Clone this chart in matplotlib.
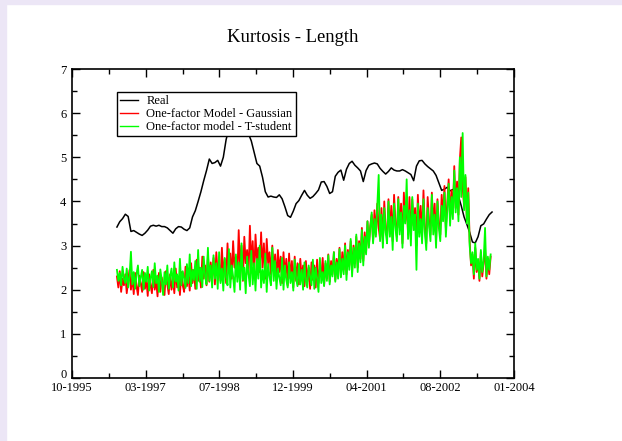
import numpy as np
import matplotlib
matplotlib.use('Agg')
import matplotlib.pyplot as plt
import matplotlib.transforms as mtransforms
from matplotlib.patches import Rectangle

plt.rcParams['font.family'] = ['Liberation Serif', 'DejaVu Serif']

# x axis in days since 10-1995
tick_days = [0, 500, 1000, 1500, 2000, 2500, 3000]
tick_labels = ['10-1995', '03-1997', '07-1998', '12-1999', '04-2001', '08-2002', '01-2004']
start_day = 305
real_step = 19      # days between points of the real series
model_step = 9.5    # days between points of the simulated series

real = [3.42, 3.54, 3.61, 3.71, 3.66, 3.32, 3.34, 3.30, 3.26, 3.23,
        3.28, 3.35, 3.44, 3.46, 3.44, 3.46, 3.43, 3.43, 3.40, 3.34,
        3.28, 3.38, 3.43, 3.42, 3.37, 3.34, 3.40, 3.65, 3.79, 4.00,
        4.22, 4.47, 4.70, 4.96, 4.86, 4.88, 4.93, 4.80, 5.00, 5.40,
        5.65, 5.78, 5.84, 5.82, 5.84, 5.86, 5.75, 5.53, 5.37, 5.12,
        4.86, 4.80, 4.55, 4.22, 4.10, 4.12, 4.10, 4.09, 4.15, 4.06,
        3.88, 3.68, 3.64, 3.78, 3.95, 4.02, 4.14, 4.25, 4.14, 4.07,
        4.11, 4.18, 4.26, 4.44, 4.45, 4.34, 4.18, 4.22, 4.57, 4.66,
        4.71, 4.48, 4.73, 4.86, 4.91, 4.82, 4.76, 4.69, 4.45, 4.70,
        4.82, 4.85, 4.87, 4.85, 4.75, 4.68, 4.62, 4.68, 4.76, 4.71,
        4.69, 4.69, 4.72, 4.69, 4.65, 4.61, 4.47, 4.80, 4.92, 4.93,
        4.85, 4.79, 4.74, 4.69, 4.59, 4.42, 4.25, 4.28, 4.32, 4.24,
        4.27, 4.25, 4.12, 3.90, 3.65, 3.48, 3.30, 3.08, 3.06, 3.20,
        3.45, 3.49, 3.60, 3.70, 3.76]

gaussian = [2.30, 2.05, 2.42, 1.95, 2.25, 2.10, 2.35, 1.92, 2.20, 2.45,
            2.00, 2.30, 1.90, 2.38, 2.08, 1.88, 2.32, 2.15, 1.95, 2.40,
            2.02, 2.25, 1.86, 2.35, 2.10, 1.92, 2.45, 2.00, 2.22, 1.85,
            2.38, 1.95, 2.28, 2.05, 1.88, 2.42, 2.12, 1.90, 2.35, 2.00,
            2.25, 1.92, 2.48, 2.05, 2.30, 1.88, 2.40, 2.10, 1.95, 2.52,
            2.08, 2.35, 1.98, 2.60, 2.15, 2.45, 2.02, 2.68, 2.20, 2.50,
            2.05, 2.75, 2.25, 2.55, 2.10, 2.80, 2.18, 2.62, 2.30, 2.72,
            2.12, 2.85, 2.35, 2.60, 2.20, 2.95, 2.28, 2.70, 2.15, 3.05,
            2.40, 2.82, 2.25, 3.10, 2.50, 2.75, 2.30, 3.35, 2.45, 3.00,
            2.20, 3.20, 2.60, 2.90, 2.35, 3.45, 2.55, 3.10, 2.30, 3.25,
            2.65, 2.95, 2.40, 3.30, 2.50, 3.05, 2.25, 3.15, 2.60, 2.85,
            2.35, 3.00, 2.45, 2.80, 2.20, 2.90, 2.40, 2.75, 2.15, 2.85,
            2.30, 2.70, 2.10, 2.82, 2.25, 2.65, 2.05, 2.75, 2.20, 2.60,
            2.12, 2.70, 2.25, 2.55, 2.08, 2.65, 2.18, 2.50, 2.02, 2.62,
            2.22, 2.55, 2.05, 2.68, 2.15, 2.48, 2.30, 2.72, 2.10, 2.60,
            2.25, 2.80, 2.18, 2.65, 2.35, 2.85, 2.22, 2.70, 2.40, 2.95,
            2.30, 2.85, 2.45, 3.05, 2.35, 2.90, 2.55, 3.10, 2.40, 3.00,
            2.60, 3.20, 2.50, 3.10, 2.70, 3.40, 2.65, 3.30, 2.85, 3.55,
            3.00, 3.45, 3.70, 3.10, 3.80, 3.25, 3.95, 3.40, 3.15, 3.85,
            3.05, 4.00, 3.35, 3.20, 4.05, 3.30, 3.90, 3.10, 4.15, 3.50,
            3.20, 4.10, 3.40, 3.95, 3.05, 4.20, 3.55, 4.00, 3.25, 4.10,
            3.15, 4.05, 3.45, 3.85, 3.00, 4.15, 3.35, 3.90, 3.20, 4.25,
            3.40, 3.05, 4.10, 3.55, 3.25, 4.20, 3.45, 3.95, 3.10, 4.05,
            3.50, 3.25, 4.15, 3.65, 4.35, 3.40, 3.95, 4.50, 3.60, 4.25,
            3.75, 4.80, 3.85, 4.45, 3.70, 4.95, 5.45, 4.30, 3.90, 4.55,
            3.60, 4.30, 3.10, 2.55, 2.80, 2.25, 2.95, 2.40, 2.65, 2.20,
            2.85, 2.30, 2.60, 2.95, 2.25, 2.70, 2.35, 2.75]

tstudent = [2.45, 2.20, 2.38, 2.10, 2.52, 2.25, 2.15, 2.48, 2.05, 2.30,
            2.86, 2.12, 2.40, 2.02, 2.35, 2.55, 2.08, 2.28, 2.45, 2.00,
            2.38, 2.18, 2.52, 1.98, 2.25, 2.42, 2.06, 2.60, 2.15, 2.32,
            1.95, 2.46, 2.22, 1.88, 2.40, 2.12, 2.55, 2.02, 2.30, 2.48,
            2.05, 2.62, 2.18, 2.35, 1.98, 2.70, 2.10, 2.42, 2.25, 2.04,
            2.58, 2.15, 2.80, 2.08, 2.45, 2.22, 2.65, 2.02, 2.90, 2.18,
            2.50, 2.06, 2.75, 2.30, 2.12, 2.95, 2.20, 2.55, 2.05, 2.78,
            2.25, 2.60, 2.02, 2.85, 2.15, 2.48, 1.98, 2.72, 2.28, 2.10,
            2.92, 2.05, 2.55, 2.30, 1.95, 2.80, 2.18, 2.62, 2.00, 3.05,
            2.22, 2.50, 1.92, 2.75, 2.35, 2.08, 2.88, 2.12, 2.60, 1.98,
            2.70, 2.25, 3.00, 2.05, 2.45, 2.15, 2.82, 1.95, 2.58, 2.30,
            2.10, 2.95, 2.20, 2.65, 2.02, 2.48, 2.28, 2.10, 2.72, 2.00,
            2.55, 2.22, 2.05, 2.62, 2.15, 2.40, 1.98, 2.68, 2.25, 2.08,
            2.58, 2.12, 2.45, 2.00, 2.62, 2.20, 2.05, 2.55, 2.30, 2.10,
            2.68, 2.02, 2.50, 2.25, 1.95, 2.72, 2.15, 2.40, 2.08, 2.65,
            2.20, 2.78, 2.12, 2.55, 2.30, 2.85, 2.18, 2.62, 2.25, 2.92,
            2.28, 2.70, 2.35, 3.00, 2.22, 2.85, 2.45, 3.15, 2.30, 2.95,
            2.50, 3.25, 2.40, 3.05, 2.62, 3.35, 2.55, 3.20, 2.80, 3.55,
            2.95, 3.40, 3.75, 3.05, 3.60, 3.20, 3.90, 4.60, 3.10, 3.70,
            2.95, 3.85, 3.30, 3.05, 4.00, 3.20, 3.65, 2.90, 3.95, 3.40,
            3.10, 4.05, 3.25, 3.75, 2.95, 3.90, 3.50, 4.50, 3.15, 3.80,
            3.00, 4.10, 3.35, 3.70, 2.45, 3.95, 3.20, 3.60, 3.05, 4.05,
            3.30, 2.90, 3.85, 3.45, 3.10, 4.15, 3.25, 3.70, 2.95, 4.00,
            3.40, 3.10, 3.90, 3.55, 4.20, 3.20, 3.80, 4.40, 3.45, 4.10,
            3.60, 4.70, 3.75, 4.30, 3.55, 5.00, 4.10, 5.55, 3.80, 4.60,
            3.50, 4.20, 3.00, 2.60, 2.85, 2.35, 3.05, 2.45, 2.70, 2.25,
            2.90, 2.40, 2.65, 3.40, 2.30, 2.75, 2.45, 2.80]

real_days = start_day + real_step * np.arange(len(real))
model_days = start_day + model_step * np.arange(len(tstudent))

fig = plt.figure(figsize=(6.22, 4.41), dpi=100)
# lavender frame strips at left and top
fig.patches.append(Rectangle((0, 0), 5.5/622, 1, transform=fig.transFigure,
                             color='#ece6f6', zorder=0))
fig.patches.append(Rectangle((0, 1-4/441), 1, 4/441, transform=fig.transFigure,
                             color='#ece6f6', zorder=0))

ax = fig.add_axes([72/622, 63/441, 442/622, 309/441])
ax.plot(real_days, real, color='k', lw=1.1, label='Real', zorder=2)
ax.plot(model_days, gaussian, color='#ff0000', lw=1.3, label='One-factor Model - Gaussian', zorder=3)
ax.plot(model_days, tstudent, color='#00ff00', lw=1.3, label='One-factor model - T-student', zorder=4)

ax.set_xlim(0, 3000)
ax.set_ylim(0, 7)
ax.set_xticks(tick_days)
ax.set_xticklabels(tick_labels)
ax.set_xticks(np.arange(250, 3000, 500), minor=True)
ax.set_yticks(range(0, 8))
ax.set_yticks(np.arange(0.5, 7, 1.0), minor=True)
ax.tick_params(which='both', direction='in', top=True, right=True, labelsize=9, width=1.0)
ax.tick_params(which='major', length=5.8)
ax.tick_params(which='minor', length=3.4)
ax.tick_params(axis='x', pad=3)
ax.tick_params(axis='y', pad=4)
for s in ax.spines.values():
    s.set_linewidth(1.2)

# lift the "0" label a little so it clears the first date
lab0 = ax.yaxis.get_major_ticks()[0].label1
lab0.set_transform(lab0.get_transform() + mtransforms.ScaledTranslation(0, 3/72, fig.dpi_scale_trans))

fig.text(293/622, 1-37/441, 'Kurtosis - Length', ha='center', va='center', fontsize=13.4)

leg = ax.legend(loc='upper left', bbox_to_anchor=(45/442, 286/309), borderaxespad=0,
                fancybox=False, edgecolor='k', framealpha=1, fontsize=9,
                handlelength=1.45, labelspacing=0.08, borderpad=0.25, handletextpad=0.65)
leg.get_frame().set_linewidth(1.0)
for line in leg.get_lines():
    line.set_linewidth(1.0)

fig.savefig('out.png', dpi=100)
